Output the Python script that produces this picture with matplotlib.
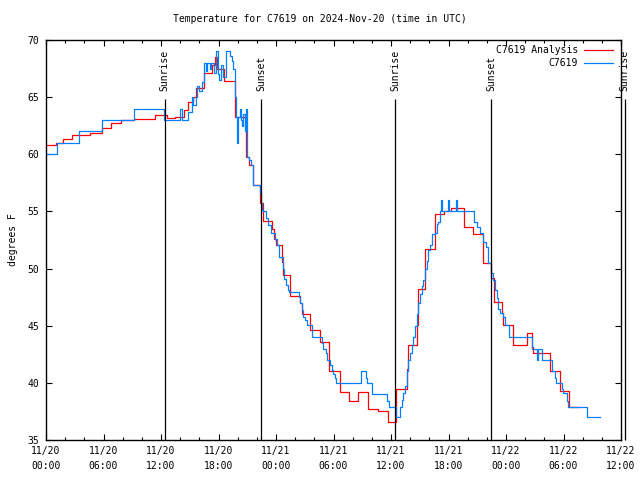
import matplotlib
matplotlib.use("Agg")
import matplotlib.pyplot as plt
from matplotlib.ticker import FixedLocator, MultipleLocator

# ---- data (hours since 2024-11-20 00:00 UTC) ----
obs_hours = [0, 1.18, 3.44, 5.81, 9.22, 12.35, 13.98, 14.2, 14.85, 15.2, 15.35, 15.6, 15.8, 16.0,
             16.25, 16.5, 16.65, 16.8, 17.1, 17.2, 17.5, 17.75, 17.95, 18.1, 18.3, 18.5, 18.78,
             19.2, 19.4, 19.55, 19.72, 19.8, 19.96, 20.05, 20.2, 20.3, 20.5, 20.6, 20.75, 20.87,
             20.95, 21.2, 21.4, 21.6, 22.33, 22.45, 22.54, 22.68, 22.96, 23.2, 23.45, 23.9, 24.07,
             24.35, 24.7, 24.87, 25.05, 25.2, 25.33, 26.44, 26.5, 26.7, 26.85, 27.0, 27.25, 27.74,
             28.76, 28.94, 29.2, 29.36, 29.64, 29.8, 29.98, 30.15, 30.26, 32.85, 33.4, 33.5, 33.98,
             35.6, 35.8, 36.52, 36.94, 37.11, 37.29, 37.46, 37.64, 37.81, 37.98, 38.16, 38.33, 38.5,
             38.68, 38.85, 39.03, 39.2, 39.38, 39.55, 39.72, 39.9, 40.07, 40.25, 40.6, 40.77, 40.95,
             41.12, 41.2, 41.3, 41.9, 42.0, 42.8, 42.9, 44.7, 44.94, 45.29, 45.64, 45.9, 46.15,
             46.47, 46.68, 46.85, 47.03, 47.2, 47.38, 47.72, 47.9, 48.35, 50.68, 51.2, 51.3, 51.72,
             52.77, 53.1, 53.2, 53.81, 53.9, 54.33, 54.5, 56.4, 57.81]
obs_temps = [60.0, 61.0, 62.0, 63.0, 64.0, 63.0, 64.0, 63.0, 63.7, 65.0, 64.3, 65.0, 66.0, 65.5,
             66.3, 68.0, 67.3, 68.0, 67.5, 68.0, 67.1, 69.0, 67.0, 66.5, 67.8, 66.8, 69.0,
             68.6, 68.2, 67.5, 65.0, 63.3, 61.0, 63.3, 64.0, 63.0, 62.5, 63.5, 62.0, 64.0,
             59.8, 59.5, 59.1, 57.3, 56.6, 55.7, 55.1, 55.0, 54.4, 53.8, 53.1, 52.6, 52.05,
             51.05, 50.0, 49.1, 48.56, 48.1, 47.97, 47.5, 46.96, 46.4, 45.8, 45.5, 45.06, 44.04,
             43.46, 43.0, 42.6, 42.0, 41.56, 41.1, 40.8, 40.4, 40.0, 41.0, 40.4, 40.0, 39.0,
             38.4, 37.9, 37.0, 37.9, 38.5, 39.1, 39.7, 41.0, 42.0, 42.6, 43.3, 44.0, 45.0,
             46.0, 47.0, 47.8, 48.5, 49.0, 50.0, 50.7, 51.6, 52.1, 53.0, 53.1, 53.9, 54.1,
             55.0, 56.0, 55.0, 56.0, 55.0, 56.0, 55.0, 54.1, 53.66, 53.1, 52.35, 51.9, 50.5,
             49.6, 49.0, 48.1, 47.4, 46.5, 46.1, 45.8, 45.06, 44.04, 43.0, 42.0, 43.0, 42.0,
             41.0, 40.4, 40.0, 39.5, 39.1, 38.4, 37.9, 37.0, 37.0]

ana_hours = [0, 1.0, 1.8, 2.7, 4.6, 5.8, 6.8, 7.8, 9.2, 11.4, 12.6, 13.5, 14.4, 14.8, 15.3, 15.6,
             16.5, 17.3, 17.6, 17.8, 18.6, 19.72, 20.9, 21.18, 21.55, 22.33, 22.6, 23.55, 23.8,
             24.0, 24.59, 24.7, 25.5, 26.5, 26.7, 27.55, 28.6, 29.57, 30.68, 31.66, 32.6, 33.63,
             34.68, 35.7, 36.5, 37.64, 37.8, 38.7, 38.8, 39.55, 40.6, 41.5, 42.3, 43.6, 44.6,
             45.6, 46.45, 46.7, 47.55, 47.7, 48.7, 50.2, 50.7, 50.86, 52.6, 53.6, 54.6, 55.6]
ana_temps = [60.85, 61.0, 61.3, 61.7, 61.9, 62.3, 62.7, 63.0, 63.1, 63.4, 63.2, 63.3, 63.9, 64.6,
             65.0, 65.8, 67.1, 67.8, 68.5, 67.5, 66.4, 63.3, 59.8, 59.1, 57.3, 55.7, 54.2, 53.5,
             52.6, 52.05, 50.6, 49.4, 47.6, 47.0, 46.0, 44.6, 43.6, 41.0, 39.2, 38.4, 39.2, 37.7,
             37.5, 36.6, 39.5, 41.2, 43.3, 45.06, 48.2, 51.7, 54.8, 55.0, 55.3, 53.66, 53.0,
             50.46, 49.2, 47.1, 46.1, 45.1, 43.35, 44.4, 43.1, 42.6, 41.0, 39.3, 37.9, 37.9]

event_hours = [12.39, 22.47, 36.46, 46.48, 60.4]
event_labels = ["Sunrise", "Sunset", "Sunrise", "Sunset", "Sunrise"]

xtick_hours = [0, 6, 12, 18, 24, 30, 36, 42, 48, 54, 60]
xtick_labels = ["11/20\n00:00", "11/20\n06:00", "11/20\n12:00", "11/20\n18:00",
                "11/21\n00:00", "11/21\n06:00", "11/21\n12:00", "11/21\n18:00",
                "11/22\n00:00", "11/22\n06:00", "11/22\n12:00"]
ytick_vals = [35, 40, 45, 50, 55, 60, 65, 70]

FONT = "DejaVu Sans Mono"
FS = 7.0
plt.rcParams["font.family"] = FONT
plt.rcParams["font.size"] = FS

fig = plt.figure(figsize=(6.4, 4.8), dpi=100)
ax = fig.add_axes([46/640, 40/480, (621-46)/640, 400/480])

ax.plot(ana_hours, ana_temps, drawstyle="steps-post", color="#ff0000", lw=0.9,
        label="C7619 Analysis")
ax.plot(obs_hours, obs_temps, drawstyle="steps-post", color="#0080ff", lw=0.9,
        label="C7619")

for h, lab in zip(event_hours, event_labels):
    ax.vlines(h, 35, 64.85, color="black", lw=0.9, clip_on=False, zorder=3)
    ax.text(h, 65.5, lab, rotation=90, ha="center", va="bottom", fontsize=FS,
            clip_on=False)

ax.set_xlim(0, 60)
ax.set_ylim(35, 70)
ax.xaxis.set_major_locator(FixedLocator(xtick_hours))
ax.set_xticklabels(xtick_labels, linespacing=1.7)
ax.xaxis.set_minor_locator(MultipleLocator(2))
ax.set_yticks(ytick_vals)
ax.tick_params(axis="both", which="major", direction="in", length=4, width=0.8,
               top=True, right=True, labelsize=FS)
ax.tick_params(axis="x", which="major", pad=4)
ax.tick_params(axis="y", which="major", pad=5)
ax.tick_params(axis="x", which="minor", direction="in", length=2, width=0.8, top=True)
for s in ax.spines.values():
    s.set_linewidth(1.0)

ax.set_ylabel("degrees F", fontsize=FS, labelpad=7)
fig.text(320/640, 1 - 19/480, "Temperature for C7619 on 2024-Nov-20 (time in UTC)",
         ha="center", va="center", fontsize=FS)

leg = ax.legend(loc="upper right", frameon=False, markerfirst=False, fontsize=FS,
                handlelength=3.0, handletextpad=0.6, labelspacing=0.3,
                bbox_to_anchor=(0.995, 1.0), borderaxespad=0.15)

fig.savefig("out.png", dpi=100)
